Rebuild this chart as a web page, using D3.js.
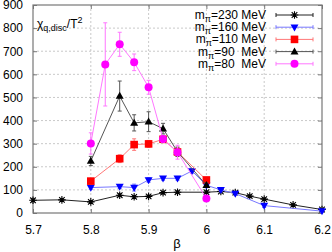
<!DOCTYPE html>
<html>
<head>
<meta charset="utf-8">
<script src="https://cdn.jsdelivr.net/npm/d3@7"></script>
<style>
  body { margin: 0; background: #fff; }
  text { font-family: "Liberation Sans", Arial, sans-serif; }
</style>
</head>
<body>
<div id="chart"></div>
<script>
// data
const xTicks = [5.7, 5.8, 5.9, 6.0, 6.1, 6.2]
const xTickLabels = ['5.7', '5.8', '5.9', '6', '6.1', '6.2']
const yTicks = [0, 100, 200, 300, 400, 500, 600, 700, 800, 900]

const beta230 = [5.7, 5.75, 5.8, 5.85, 5.875, 5.9, 5.925, 5.95, 6.0, 6.025, 6.05, 6.075, 6.1, 6.15, 6.2]
const chi230 = [55, 57, 48, 77, 70, 72, 88, 90, 90, 93, 88, 73, 60, 35, 15]
const err230 = [6, 5, 5, 6, 5, 5, 6, 5, 5, 5, 5, 5, 5, 4, 4]

const beta160 = [5.8, 5.85, 5.875, 5.9, 5.925, 5.95, 5.975, 6.0, 6.025, 6.05, 6.1, 6.2]
const chi160 = [110, 114, 110, 143, 150, 150, 182, 120, 100, 84, 32, 8]
const err160 = [8, 8, 15, 10, 8, 8, 10, 8, 8, 8, 8, 5]

const beta110 = [5.8, 5.85, 5.875, 5.9, 5.925, 5.95, 6.0]
const chi110 = [138, 235, 296, 299, 319, 264, 143]
const err110 = [10, 17, 25, 15, 15, 20, 10]

const beta90 = [5.8, 5.85, 5.875, 5.9, 5.925, 5.95, 6.0]
const chi90 = [225, 506, 390, 395, 365, 265, 120]
const err90 = [20, 65, 35, 43, 23, 20, 10]

const beta80 = [5.8, 5.825, 5.85, 5.875, 5.9, 5.925, 5.95, 6.0]
const chi80 = [301, 643, 730, 652, 544, 320, 263, 63]
const err80 = [46, 180, 52, 36, 30, 15, 30, 10]

const seriesNames = ['230', '160', '110', '90 ', '80 ']
const seriesColours = ['#000000', '#0000ff', '#ff0000', '#000000', '#ff00ff']
const lineColours = ['#222222', '#7777ff', '#ff7777', '#555555', '#ff77ff']
const seriesShapes = ['star', 'tridown', 'square', 'triup', 'circle']

const series = [
  [beta230, chi230, err230],
  [beta160, chi160, err160],
  [beta110, chi110, err110],
  [beta90, chi90, err90],
  [beta80, chi80, err80]
].map((s, i) => ({
  name: seriesNames[i],
  colour: seriesColours[i],
  line: lineColours[i],
  shape: seriesShapes[i],
  points: s[0].map((b, j) => ({ x: b, y: s[1][j], e: s[2][j] }))
}))

const width = 332
const height = 252
const plotLeft = 33, plotRight = 322, plotTop = 5, plotBottom = 213

const svg = d3.select('#chart').append('svg')
  .attr('width', width)
  .attr('height', height)

const x = d3.scaleLinear().domain([5.7, 6.2]).range([plotLeft, plotRight])
const y = d3.scaleLinear().domain([0, 900]).range([plotBottom, plotTop])

// grid
svg.append('g').selectAll('line')
  .data(yTicks.slice(1, -1))
  .enter().append('line')
  .attr('x1', plotLeft).attr('x2', plotRight)
  .attr('y1', d => y(d)).attr('y2', d => y(d))
  .style('stroke', '#bbbbbb')
  .style('stroke-dasharray', '2,2')
  .style('stroke-width', 0.8)

svg.append('g').selectAll('line')
  .data(xTicks.slice(1, -1))
  .enter().append('line')
  .attr('x1', d => x(d)).attr('x2', d => x(d))
  .attr('y1', plotTop).attr('y2', plotBottom)
  .style('stroke', '#bbbbbb')
  .style('stroke-dasharray', '2,2')
  .style('stroke-width', 0.8)

// axes, ticks pointing inward, mirrored
const axisLeft = d3.axisLeft(y).tickValues(yTicks).tickSize(-4).tickPadding(10)
const axisRight = d3.axisRight(y).tickValues(yTicks).tickSize(-4).tickFormat('')
const axisBottom = d3.axisBottom(x).tickValues(xTicks).tickSize(-4).tickPadding(12)
  .tickFormat((d, i) => xTickLabels[i])
const axisTop = d3.axisTop(x).tickValues(xTicks).tickSize(-4).tickFormat('')

function styleAxis(g) {
  g.select('.domain').remove()
  g.selectAll('line').style('stroke', '#777')
  g.selectAll('text').style('font-size', '12px').style('fill', '#000')
    .style('font-family', '"Liberation Sans", Arial, sans-serif')
}

svg.append('g').attr('transform', `translate(${plotLeft},0)`).call(axisLeft).call(styleAxis)
svg.append('g').attr('transform', `translate(${plotRight},0)`).call(axisRight).call(styleAxis)
svg.append('g').attr('transform', `translate(0,${plotBottom})`).call(axisBottom).call(styleAxis)
svg.append('g').attr('transform', `translate(0,${plotTop})`).call(axisTop).call(styleAxis)

svg.append('rect')
  .attr('x', plotLeft).attr('y', plotTop)
  .attr('width', plotRight - plotLeft).attr('height', plotBottom - plotTop)
  .style('fill', 'none')
  .style('stroke', '#777')
  .style('stroke-width', 1.2)

// markers
function drawMarker(g, shape, colour, cx, cy) {
  if (shape === 'circle') {
    g.append('circle').attr('cx', cx).attr('cy', cy).attr('r', 4).style('fill', colour)
  } else if (shape === 'square') {
    g.append('rect').attr('x', cx - 3.8).attr('y', cy - 3.8).attr('width', 7.6).attr('height', 7.6)
      .style('fill', colour)
  } else if (shape === 'triup') {
    g.append('path').attr('d', `M${cx},${cy - 4.2}L${cx + 4},${cy + 2.8}L${cx - 4},${cy + 2.8}Z`)
      .style('fill', colour)
  } else if (shape === 'tridown') {
    g.append('path').attr('d', `M${cx},${cy + 4.2}L${cx + 4},${cy - 2.8}L${cx - 4},${cy - 2.8}Z`)
      .style('fill', colour)
  } else {
    const r = 3.8, d = 2.8
    g.append('path')
      .attr('d', `M${cx - r},${cy}H${cx + r}M${cx},${cy - r}V${cy + r}` +
        `M${cx - d},${cy - d}L${cx + d},${cy + d}M${cx - d},${cy + d}L${cx + d},${cy - d}`)
      .style('stroke', colour).style('stroke-width', 1.1).style('fill', 'none')
  }
}

const line = d3.line().x(d => x(d.x)).y(d => y(d.y))

series.forEach(s => {
  const g = svg.append('g')

  g.append('path')
    .datum(s.points)
    .attr('d', line)
    .style('fill', 'none')
    .style('stroke', s.line)
    .style('stroke-width', 1)

  // error bars
  s.points.forEach(p => {
    const px = x(p.x)
    const y0 = y(p.y - p.e), y1 = y(p.y + p.e)
    g.append('path')
      .attr('d', `M${px},${y0}V${y1}M${px - 2},${y0}H${px + 2}M${px - 2},${y1}H${px + 2}`)
      .style('stroke', s.line)
      .style('stroke-width', 1)
      .style('fill', 'none')
  })

  s.points.forEach(p => drawMarker(g, s.shape, s.colour, x(p.x), y(p.y)))
})

// legend
const legend = svg.append('g')
series.forEach((s, i) => {
  const ly = 15 + i * 12.2
  const t = legend.append('text')
    .attr('x', 266).attr('y', ly + 4)
    .attr('text-anchor', 'end')
    .style('font-size', '12px')
    .style('white-space', 'pre')
    .attr('xml:space', 'preserve')
  t.append('tspan').text('m')
  t.append('tspan').attr('dy', 3).style('font-size', '9px').text('π')
  t.append('tspan').attr('dy', -3).text('=' + s.name + ' MeV')

  legend.append('path')
    .attr('d', `M276,${ly}H313M276,${ly - 2}V${ly + 2}M313,${ly - 2}V${ly + 2}`)
    .style('stroke', s.line)
    .style('stroke-width', 1)
    .style('fill', 'none')
  drawMarker(legend, s.shape, s.colour, 294.5, ly)
})

// axis titles
const yTitle = svg.append('text')
  .attr('x', 37).attr('y', 28)
  .style('font-size', '12px')
yTitle.append('tspan').text('χ')
yTitle.append('tspan').attr('dy', 3).style('font-size', '9px').text('q,disc')
yTitle.append('tspan').attr('dy', -3).text('/T')
yTitle.append('tspan').attr('dy', -5).style('font-size', '9px').text('2')

svg.append('text')
  .attr('x', 177).attr('y', 248)
  .attr('text-anchor', 'middle')
  .style('font-size', '13px')
  .text('β')
</script>
</body>
</html>
